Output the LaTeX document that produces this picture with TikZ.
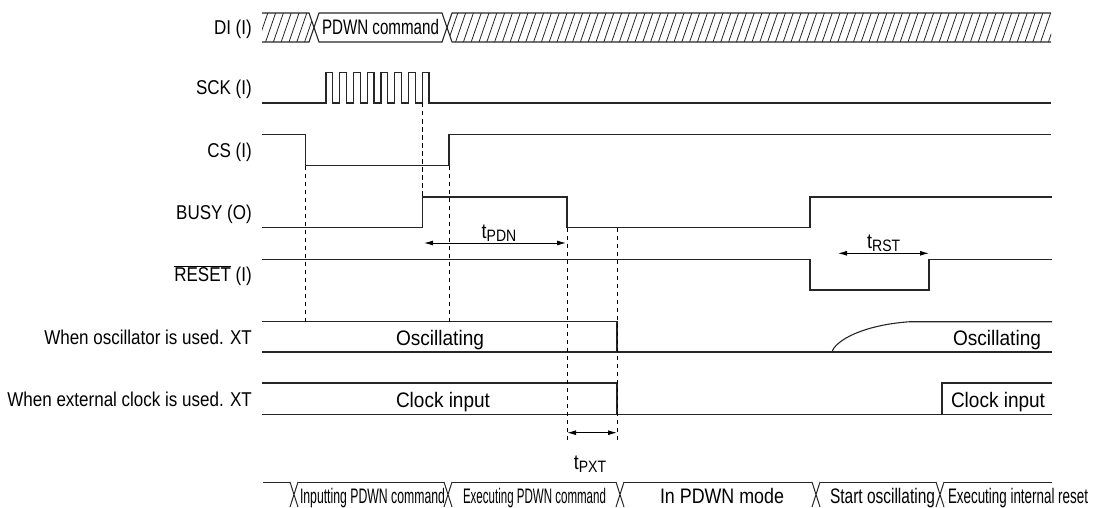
\documentclass[tikz,border=0pt]{standalone}
\usepackage{fontspec}
\setmainfont[FakeStretch=0.85]{Liberation Sans}
\usetikzlibrary{arrows.meta}
% squeeze a text horizontally to a given width, keeping its height
\newcommand{\fitw}[2]{\resizebox{#1}{\height}{#2}}
% timing symbol: t with a large lowered subscript
\newcommand{\tlab}[1]{t\raisebox{-3pt}{\fontsize{16.5}{17}\selectfont #1}}

\begin{document}
\begin{tikzpicture}[x=1pt,y=-1pt,
  wave/.style={line width=1.1pt, line join=miter, draw=black!85},
  bus/.style={line width=1pt, draw=black!85},
  hatch/.style={line width=0.8pt, draw=black!85},
  guide/.style={line width=0.9pt, dash pattern=on 4.5pt off 3.5pt},
  span/.style={line width=1pt, {Latex[length=9pt,width=5pt]}-{Latex[length=9pt,width=5pt]}},
  sig/.style={anchor=base east, inner sep=0pt, font=\fontsize{20}{24}\selectfont},
  txt/.style={anchor=base, inner sep=0pt, font=\fontsize{21}{24}\selectfont},
]
\useasboundingbox (0,0) rectangle (1099,508);

% ---------- signal names ----------
\node[sig] (lDI)   at (252,34.5) {DI (I)};
\node[sig] (lSCK)  at (252,95)   {SCK (I)};
\node[sig] (lCS)   at (252,157)  {CS (I)};
\node[sig] (lBUSY) at (252,219)  {BUSY (O)};
\node[sig] (lRST)  at (252,281.5){\(\overline{\hbox{RESET}}\) (I)};
\node[sig] (lOSC)  at (252,344)  {When oscillator is used. XT};
\node[sig] (lEXT)  at (252,406)  {When external clock is used. XT};

% ---------- DI: hatched bus with the command slot ----------
\draw[wave] (262,13) -- (309,13) -- (319,42) -- (442,42) -- (452,13) -- (1051,13);
\draw[wave] (262,42) -- (309,42) -- (319,13) -- (442,13) -- (452,42) -- (1051,42);
\begin{scope}
  \clip (262,13) -- (309,13) -- (314,27.5) -- (309,42) -- (262,42) -- cycle;
  \foreach \x in {250,257.8,...,330} \draw[hatch] (\x,42) -- (\x+10,13);
\end{scope}
\begin{scope}
  \clip (452,13) -- (447,27.5) -- (452,42) -- (1051,42) -- (1051,13) -- cycle;
  \foreach \x in {440,447.8,...,1060} \draw[hatch] (\x,42) -- (\x+10,13);
\end{scope}
\node[txt] (cmd) at (380.5,34.5) {\fitw{117pt}{PDWN command}};

% ---------- SCK: eight clock pulses ----------
\draw[wave] (262,103) foreach \k in {0,...,7} { -| ({326+13.76*\k},72.5) -| ({332.7+13.76*\k},103) } -- (1051,103);

% ---------- CS ----------
\draw[wave] (262,134.7) -- (305.7,134.7) -- (305.7,165.7) -- (449,165.7) -- (449,134.7) -- (1051,134.7);

% ---------- BUSY ----------
\draw[wave] (262,227.7) -- (422.3,227.7) -- (422.3,197) -- (567,197) -- (567,227.7)
  -- (810,227.7) -- (810,197) -- (1052,197);

% ---------- RESET ----------
\draw[wave] (262,259.3) -- (810,259.3) -- (810,290) -- (929,290) -- (929,259.3) -- (1052,259.3);

% ---------- XT with oscillator ----------
\draw[wave] (262,321.7) -- (617,321.7) -- (617,352);
\draw[wave] (262,352) -- (1052,352);
\draw[wave] (832,352) .. controls (835,341) and (862,325) .. (910,321.7) -- (1052,321.7);
\node[txt] (osc1) at (440,345) {\fitw{88pt}{Oscillating}};
\node[txt] (osc2) at (997,345) {\fitw{88pt}{Oscillating}};

% ---------- XT with external clock ----------
\draw[wave] (262,383) -- (617,383) -- (617,414.5);
\draw[wave] (262,414.5) -- (1052,414.5);
\draw[wave] (1052,383) -- (942,383) -- (942,414.5);
\node[txt] (clk1) at (443,407) {\fitw{94pt}{Clock input}};
\node[txt] (clk2) at (998,407) {\fitw{94pt}{Clock input}};

% ---------- reference lines ----------
\coordinate (g1a) at (305.7,165.7); \coordinate (g1b) at (305.7,321.7);
\coordinate (g2a) at (422.3,103);   \coordinate (g2b) at (422.3,197);
\coordinate (g3a) at (449,165.7);   \coordinate (g3b) at (449,321.7);
\coordinate (g4a) at (567,227.7);   \coordinate (g4b) at (567,443);
\coordinate (g5a) at (617,227.7);   \coordinate (g5b) at (617,443);
\draw[guide] (g1a) -- (g1b);
\draw[guide] (g2a) -- (g2b);
\draw[guide] (g3a) -- (g3b);
\draw[guide] (g4a) -- (g4b);
\draw[guide] (g5a) -- (g5b);

% ---------- timing spans ----------
\coordinate (pdnL) at (424,243);   \coordinate (pdnR) at (566,243);
\coordinate (rstL) at (838,253.3); \coordinate (rstR) at (929,253.3);
\coordinate (pxtL) at (567,432.7); \coordinate (pxtR) at (617,432.7);
\draw[span] (pdnL) -- (pdnR);
\draw[span] (rstL) -- (rstR);
\draw[span] (pxtL) -- (pxtR);
\node[txt] (tPDN) at (499,238)   {\tlab{PDN}};
\node[txt] (tRST) at (883.7,248) {\tlab{RST}};
\node[txt] (tPXT) at (590,469)   {\tlab{PXT}};

% ---------- operating states ----------
\draw[bus] (263,482) -- (290,482)  (298,482) -- (444,482)  (452,482) -- (616,482)
           (624,482) -- (812,482)  (820,482) -- (936,482)  (944,482) -- (1052,482);
\foreach \c in {294,448,620,816,940}
  \draw[bus] (\c-4,482) -- (\c+4,507) (\c+4,482) -- (\c-4,507);
\node[txt] (s1) at (372.5,503) {\fitw{145pt}{Inputting PDWN command}};
\node[txt] (s2) at (534.5,503) {\fitw{143pt}{Executing PDWN command}};
\node[txt] (s3) at (722,503)   {\fitw{124pt}{In PDWN mode}};
\node[txt] (s4) at (882.5,503) {\fitw{105pt}{Start oscillating}};
\node[txt] (s5) at (1018,503)  {\fitw{140pt}{Executing internal reset}};
\end{tikzpicture}
\end{document}
